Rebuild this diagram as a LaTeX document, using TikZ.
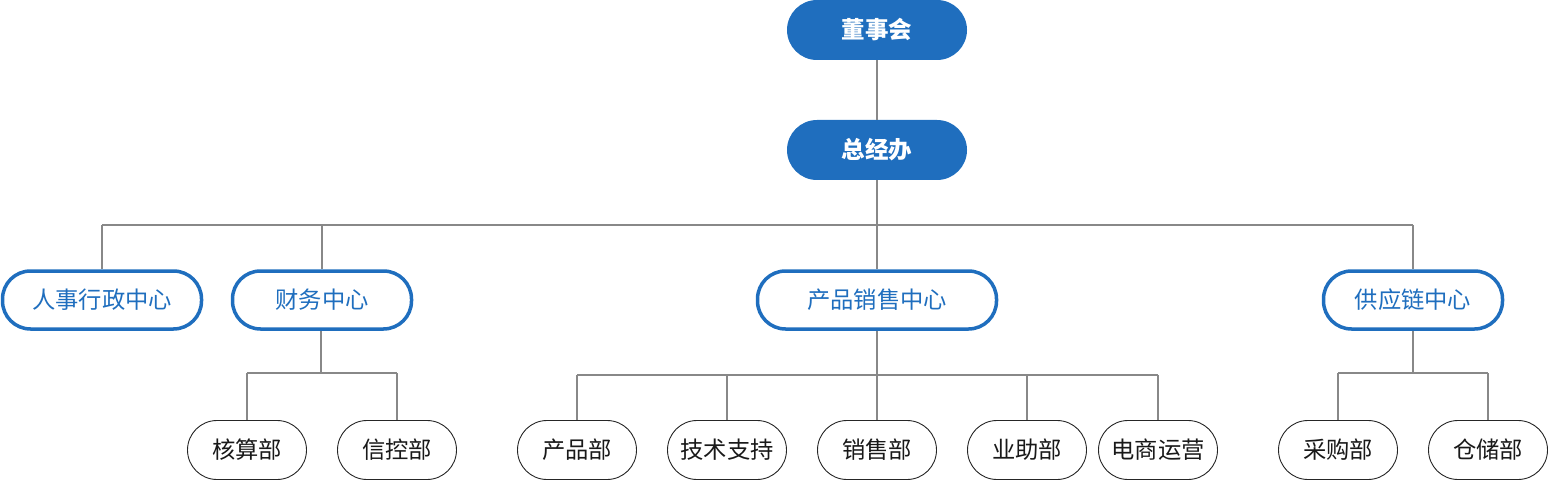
\documentclass[tikz,border=0pt]{standalone}
\usepackage{fontspec}
\setmainfont{Noto Sans CJK SC}
\definecolor{corpblue}{HTML}{1F6EBE}
\definecolor{linegray}{HTML}{888888}
\begin{document}
\begin{tikzpicture}[x=1pt,y=-1pt,
  topbox/.style={rounded corners=30pt,fill=corpblue,draw=none,minimum width=180pt,minimum height=60pt,text=white,font=\fontsize{23.5}{26}\selectfont\bfseries,inner sep=0pt},
  midbox/.style={rounded corners=28pt,draw=corpblue,line width=3.5pt,fill=white,minimum height=58pt,text=corpblue,font=\fontsize{23.3}{26}\selectfont,inner sep=0pt},
  lowbox/.style={rounded corners=29.5pt,draw=black!85,line width=0.9pt,fill=white,minimum width=119pt,minimum height=59pt,text=black!90,font=\fontsize{23.3}{26}\selectfont,inner sep=0pt},
  conn/.style={draw=linegray,line width=1.8pt}]
\useasboundingbox (0,0) rectangle (1549,481);
% bus coordinates
\coordinate (busA) at (877,225);
\coordinate (busAL) at (102,225);
\coordinate (busAR) at (1413,225);
\coordinate (busAF) at (322,225);
\coordinate (busB) at (321,373);
\coordinate (busBL) at (247,373);
\coordinate (busBR) at (397,373);
\coordinate (busC) at (877,375);
\coordinate (busCL) at (577,375);
\coordinate (busCR) at (1158,375);
\coordinate (busC2) at (727,375);
\coordinate (busC4) at (1027,375);
\coordinate (busD) at (1413,373);
\coordinate (busDL) at (1338,373);
\coordinate (busDR) at (1488,373);

\node[topbox] (dsh) at (877,30) {董事会};
\node[topbox] (zjb) at (877,150) {总经办};

\node[midbox,minimum width=199pt] (rs) at (102,300) {人事行政中心};
\node[midbox,minimum width=179pt] (cw) at (322,300) {财务中心};
\node[midbox,minimum width=239pt] (cp) at (877,300) {产品销售中心};
\node[midbox,minimum width=179pt] (gy) at (1413,300) {供应链中心};

\node[lowbox] (hs) at (247,450) {核算部};
\node[lowbox] (xk) at (397,450) {信控部};
\node[lowbox] (cpb) at (577,450) {产品部};
\node[lowbox] (js) at (727,450) {技术支持};
\node[lowbox] (xs) at (877,450) {销售部};
\node[lowbox] (yz) at (1027,450) {业助部};
\node[lowbox] (ds) at (1158,450) {电商运营};
\node[lowbox] (cg) at (1338,450) {采购部};
\node[lowbox] (cc) at (1488,450) {仓储部};

\path[conn] (dsh.south) -- (zjb.north);
\path[conn] (zjb.south) -- (busA);
\path[conn] (busAL) -- (busAR);
\path[conn] (busAL) -- (rs.north);
\path[conn] (busAF) -- (cw.north);
\path[conn] (busA) -- (cp.north);
\path[conn] (busAR) -- (gy.north);

\path[conn] (cw.south -| busB) -- (busB);
\path[conn] (busBL) -- (busBR);
\path[conn] (busBL) -- (hs.north);
\path[conn] (busBR) -- (xk.north);

\path[conn] (cp.south) -- (busC);
\path[conn] (busCL) -- (busCR);
\path[conn] (busCL) -- (cpb.north);
\path[conn] (busC2) -- (js.north);
\path[conn] (busC) -- (xs.north);
\path[conn] (busC4) -- (yz.north);
\path[conn] (busCR) -- (ds.north);

\path[conn] (gy.south) -- (busD);
\path[conn] (busDL) -- (busDR);
\path[conn] (busDL) -- (cg.north);
\path[conn] (busDR) -- (cc.north);
\end{tikzpicture}
\end{document}
